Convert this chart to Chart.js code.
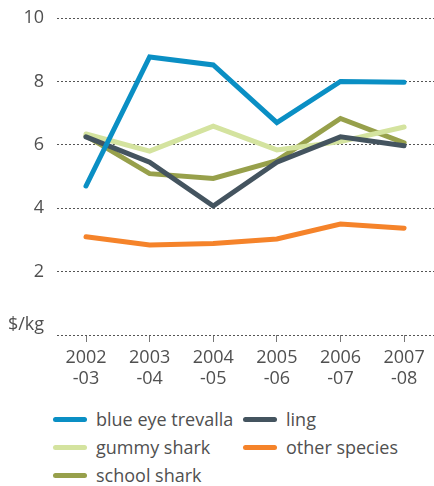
<!DOCTYPE html>
<html>
<head>
<meta charset="utf-8">
<script src="https://cdn.jsdelivr.net/npm/chart.js@4"></script>
<style>
  html, body { margin: 0; padding: 0; background: #fff; }
  #wrap { position: relative; width: 434px; height: 486px; }
  #chart-box { position: absolute; left: 0; top: 0; width: 434px; height: 400px; }
  #legend {
    position: absolute; left: 53px; top: 405px;
    display: grid; grid-template-columns: 190px 190px; grid-auto-rows: 28px;
    font-family: 'Open Sans', sans-serif; font-size: 18px; color: #505050;
  }
  .item { display: flex; align-items: center; white-space: nowrap; }
  .swatch { width: 34px; height: 5px; border-radius: 3px; margin-right: 9px; }
</style>
</head>
<body>
<div id="wrap">
  <div id="chart-box"><canvas id="chart"></canvas></div>
  <div id="legend"></div>
</div>
<script>
const seasons = [['2002', '-03'], ['2003', '-04'], ['2004', '-05'], ['2005', '-06'], ['2006', '-07'], ['2007', '-08']];
const yTicks = [0, 2, 4, 6, 8, 10];
const unitLabel = '$/kg';

const blueEye = [4.70, 8.77, 8.52, 6.70, 8.00, 7.97];
const ling    = [6.25, 5.45, 4.07, 5.45, 6.25, 5.97];
const gummy   = [6.34, 5.80, 6.59, 5.84, 6.10, 6.56];
const other   = [3.10, 2.84, 2.89, 3.03, 3.50, 3.37];
const school  = [6.28, 5.09, 4.94, 5.50, 6.83, 6.06];

const series = [
  { label: 'blue eye trevalla', data: blueEye, color: '#0a8fc4' },
  { label: 'ling',              data: ling,    color: '#44545f' },
  { label: 'gummy shark',       data: gummy,   color: '#d4e39f' },
  { label: 'other species',     data: other,   color: '#f5832a' },
  { label: 'school shark',      data: school,  color: '#97a04b' },
];

const FONT = 'Open Sans';
const TEXT = '#505050';

// "$/kg" sits just above the zero line, in place of the 0 tick
const unitPlugin = {
  id: 'unitLabel',
  afterDraw(chart) {
    const { ctx, chartArea, scales } = chart;
    ctx.save();
    ctx.font = `18px '${FONT}'`;
    ctx.fillStyle = TEXT;
    ctx.textAlign = 'right';
    ctx.textBaseline = 'middle';
    ctx.fillText(unitLabel, chartArea.left - 13, scales.y.getPixelForValue(0) - 10);
    ctx.restore();
  }
};

new Chart(document.getElementById('chart'), {
  type: 'line',
  data: {
    datasets: series.map(s => ({
      label: s.label,
      data: s.data.map((v, i) => ({ x: i, y: v })),
      borderColor: s.color,
      backgroundColor: s.color,
      borderWidth: 5,
      borderCapStyle: 'round',
      borderJoinStyle: 'miter',
      pointRadius: 0,
      tension: 0,
    }))
  },
  options: {
    responsive: true,
    maintainAspectRatio: false,
    animation: false,
    layout: { padding: { top: 18, right: 0, bottom: 0, left: 0 } },
    plugins: { legend: { display: false }, tooltip: { enabled: false } },
    scales: {
      x: {
        type: 'linear',
        min: -0.456,
        max: 5.47,
        afterBuildTicks: scale => { scale.ticks = seasons.map((_, i) => ({ value: i })); },
        afterFit: scale => {
          scale.height = 65;
          scale.paddingLeft = 0;
          scale.paddingRight = 0;
        },
        ticks: {
          callback: v => seasons[v],
          color: TEXT,
          font: { family: FONT, size: 18, lineHeight: 1.15 },
          padding: 6,
          maxRotation: 0,
          autoSkip: false,
        },
        grid: { drawOnChartArea: false, drawTicks: true, tickLength: 7, color: '#777', lineWidth: 1 },
        border: { display: false },
      },
      y: {
        min: 0,
        max: 10,
        afterBuildTicks: scale => { scale.ticks = yTicks.map(v => ({ value: v })); },
        afterFit: scale => {
          scale.width = 57;
          scale.paddingTop = 0;
          scale.paddingBottom = 0;
        },
        ticks: {
          callback: v => (v === 0 ? '' : v),
          color: TEXT,
          font: { family: FONT, size: 18 },
          padding: 13,
        },
        grid: { color: '#555', lineWidth: 1, drawTicks: false },
        border: { display: false, dash: [2, 2] },
      },
    },
  },
  plugins: [unitPlugin],
});

// Legend in two columns, same order as the datasets
const legend = document.getElementById('legend');
series.forEach(s => {
  const item = document.createElement('div');
  item.className = 'item';
  item.innerHTML = `<span class="swatch" style="background:${s.color}"></span><span>${s.label}</span>`;
  legend.appendChild(item);
});
</script>
</body>
</html>
